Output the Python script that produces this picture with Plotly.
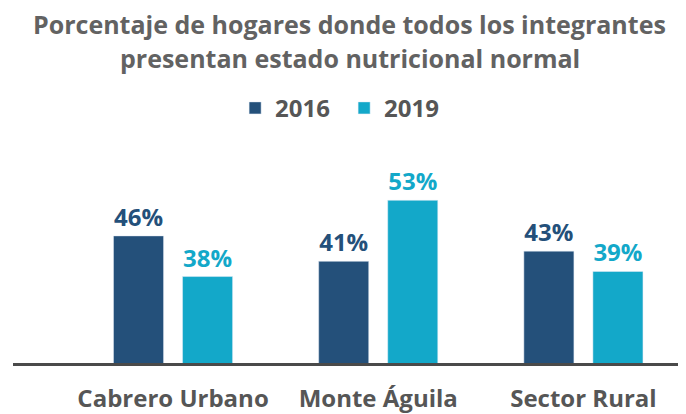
import plotly.graph_objects as go

# data
zonas = ['Cabrero Urbano', 'Monte Águila', 'Sector Rural']
v2016 = [46, 41, 43]
v2019 = [38, 53, 39]

titulo_1 = 'Porcentaje de hogares donde todos los integrantes'
titulo_2 = 'presentan estado nutricional normal'

azul = '#24507a'
celeste = '#13a8c9'
gris = '#565656'
gris_titulo = '#626262'
fuente = 'Open Sans'

# page body has an 8px margin, so the figure is 8px smaller than the window
W, H = 678, 406
M_TOP, M_BOT = 140, 44
plot_h = H - M_TOP - M_BOT
eje_y = H - M_BOT

fig = go.Figure()
fig.add_trace(go.Bar(x=zonas, y=v2016, name='2016', marker_color=azul,
                     texttemplate='%{y}%', textposition='outside',
                     textfont=dict(color=azul, size=24, family=fuente, weight='bold'),
                     cliponaxis=False))
fig.add_trace(go.Bar(x=zonas, y=v2019, name='2019', marker_color=celeste,
                     texttemplate='%{y}%', textposition='outside',
                     textfont=dict(color=celeste, size=24, family=fuente, weight='bold'),
                     cliponaxis=False))

fig.update_layout(
    width=W, height=H,
    margin=dict(l=5, r=0, t=M_TOP, b=M_BOT),
    paper_bgcolor='white', plot_bgcolor='white',
    barmode='group', bargap=0.327, bargroupgap=0.275,
    font=dict(family=fuente, color=gris),
    showlegend=True,
    legend=dict(orientation='h', x=0.492, xanchor='center', y=(eje_y - 99) / plot_h,
                yanchor='middle', entrywidth=64,
                font=dict(size=24, color=gris, family=fuente, weight='bold'),
                traceorder='normal'),
    annotations=[
        dict(text=titulo_1, x=0.5, y=(eje_y - 12) / plot_h, xref='paper', yref='paper',
             showarrow=False, yanchor='middle',
             font=dict(size=25, color=gris_titulo, family=fuente, weight='bold')),
        dict(text=titulo_2, x=0.5, y=(eje_y - 47) / plot_h, xref='paper', yref='paper',
             showarrow=False, yanchor='middle',
             font=dict(size=25, color=gris_titulo, family=fuente, weight='bold')),
    ],
)

fig.update_xaxes(range=[-0.78, 2.5], showline=True, linecolor='#4a4a4a', linewidth=3,
                 showgrid=False, ticks='', ticklabelstandoff=12,
                 tickfont=dict(size=24, color=gris, family=fuente, weight='bold'))
fig.update_yaxes(range=[21, 21 + plot_h / 5.25], visible=False, showgrid=False,
                 zeroline=False)

fig.write_html('out.html')
